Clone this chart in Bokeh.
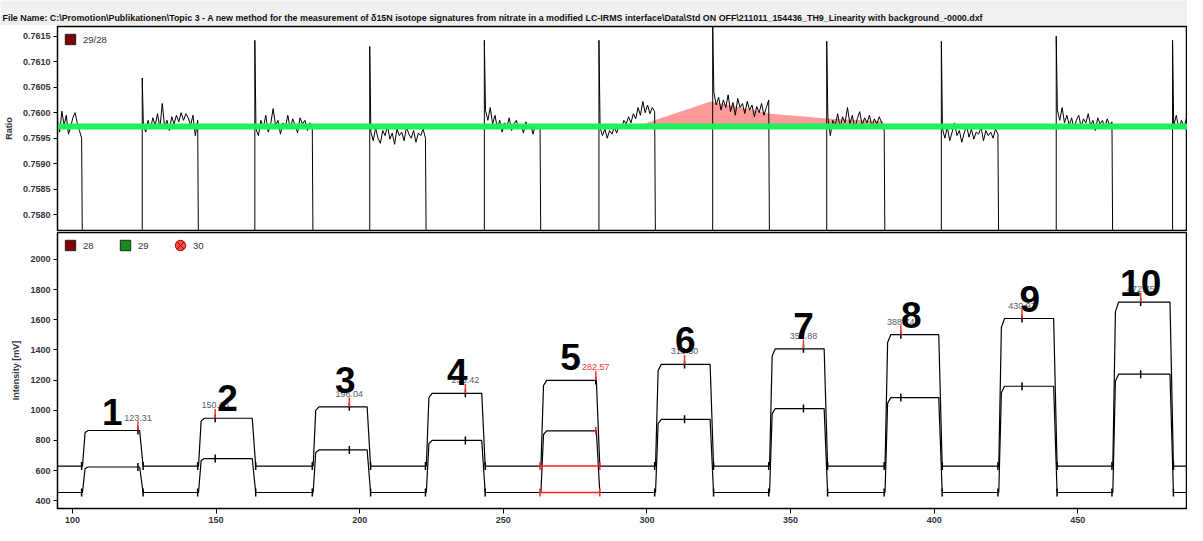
import numpy as np
from bokeh.plotting import figure
from bokeh.layouts import column
from bokeh.models import (Range1d, FixedTicker, NumeralTickFormatter, Label,
                          Legend, LegendItem, ColumnDataSource)
from bokeh.core.properties import value
from bokeh.embed import file_html
from bokeh.resources import INLINE

# ---------------- data ----------------
TITLE = ("File Name: C:\\Promotion\\Publikationen\\Topic 3 - A new method for the measurement of "
         "\u03b415N isotope signatures from nitrate in a modified LC-IRMS interface\\Data\\Std ON OFF\\"
         "211011_154436_TH9_Linearity with background_-0000.dxf")

time_range = (94.8, 488.2)

peak_start = [103.5, 143.9, 183.8, 223.2, 263.1, 303.0, 342.7, 382.9, 422.5, 462.2]
peak_end = [124.3, 163.5, 203.5, 243.4, 283.3, 322.9, 362.6, 402.5, 442.5, 483.0]
plateau_28 = [866, 947, 1023, 1112, 1198, 1304, 1407, 1501, 1608, 1717]
plateau_29 = [624, 680, 737, 800, 864, 940, 1011, 1084, 1159, 1239]
baseline_28 = 630
baseline_29 = 455
apex_time = [122.8, 149.7, 196.4, 236.8, 282.2, 313.1, 354.5, 388.4, 430.6, 471.9]
apex_label = ["123.31", "150.03", "196.04", "236.42", "282.57", "313.50", "354.88", "388.74", "430.97", "472.35"]
selected_peak = 4
peak_numbers = ["1", "2", "3", "4", "5", "6", "7", "8", "9", "10"]
number_x = [113.9, 154.0, 195.0, 234.0, 273.4, 313.4, 354.5, 392.0, 433.3, 471.9]
number_y = [902, 998, 1112, 1169, 1265, 1379, 1474, 1544, 1652, 1760]

ratio_reference = 0.75973
ratio_in_peak = 0.7570
ratio_spike = [0.76068, 0.76142, 0.76130, 0.76142, 0.76142, 0.76175, 0.76140, 0.76140, 0.76150, 0.76142]
ratio_gaps = [
    [0.75985, 0.75962, 0.76003, 0.75975, 0.75995, 0.75958, 0.75972, 0.75990, 0.76000, 0.75980, 0.75965, 0.75950],
    [0.75975, 0.75962, 0.75985, 0.75968, 0.75990, 0.75975, 0.75998, 0.75970, 0.76018, 0.75972, 0.75985, 0.75965,
     0.75992, 0.75978, 0.75995, 0.75982, 0.76000, 0.75985, 0.75998, 0.75990, 0.75975, 0.75995, 0.75955, 0.75985],
    [0.75968, 0.75955, 0.75985, 0.75970, 0.75995, 0.75962, 0.75978, 0.76008, 0.75975, 0.75985, 0.75958, 0.75980,
     0.75972, 0.75995, 0.75968, 0.75988, 0.75975, 0.75960, 0.75990, 0.75978, 0.75985, 0.75965, 0.75980, 0.75970],
    [0.75962, 0.75945, 0.75970, 0.75950, 0.75940, 0.75965, 0.75955, 0.75975, 0.75948, 0.75960, 0.75938, 0.75968,
     0.75955, 0.75962, 0.75945, 0.75972, 0.75958, 0.75950, 0.75965, 0.75942, 0.75960, 0.75955, 0.75968, 0.75950],
    [0.76005, 0.75985, 0.76010, 0.75978, 0.75995, 0.75970, 0.75985, 0.75962, 0.75980, 0.75972, 0.75990, 0.75965,
     0.75978, 0.75985, 0.75968, 0.75975, 0.75960, 0.75982, 0.75970, 0.75978, 0.75958, 0.75975, 0.75968, 0.75972],
    [0.75970, 0.75955, 0.75968, 0.75950, 0.75965, 0.75958, 0.75972, 0.75960, 0.75975, 0.75968, 0.75985, 0.75978,
     0.75992, 0.75980, 0.75998, 0.75988, 0.76010, 0.75995, 0.76022, 0.76000, 0.76015, 0.75998, 0.76010, 0.76002],
    [0.76040, 0.76015, 0.76030, 0.76005, 0.76025, 0.76010, 0.76035, 0.76002, 0.76020, 0.75995, 0.76028, 0.76010,
     0.76018, 0.75998, 0.76022, 0.76005, 0.76015, 0.75992, 0.76012, 0.76000, 0.76018, 0.75995, 0.76010, 0.76025],
    [0.75990, 0.75955, 0.75985, 0.75975, 0.75998, 0.75970, 0.75992, 0.75980, 0.76010, 0.75978, 0.75995, 0.75968,
     0.75988, 0.76002, 0.75975, 0.75990, 0.75980, 0.75995, 0.75972, 0.75988, 0.75978, 0.75992, 0.75980, 0.75970],
    [0.75968, 0.75950, 0.75972, 0.75945, 0.75962, 0.75980, 0.75955, 0.75965, 0.75942, 0.75960, 0.75975, 0.75952,
     0.75968, 0.75948, 0.75962, 0.75958, 0.75972, 0.75945, 0.75965, 0.75955, 0.75962, 0.75950, 0.75968, 0.75958],
    [0.76005, 0.75985, 0.76010, 0.75980, 0.75995, 0.75975, 0.75990, 0.75968, 0.75985, 0.75995, 0.75972, 0.75988,
     0.75980, 0.75998, 0.75975, 0.75985, 0.75965, 0.75990, 0.75978, 0.75985, 0.75970, 0.75988, 0.75975, 0.75982],
    [0.75975, 0.75995, 0.75968, 0.75985, 0.75972, 0.75990],
]
highlight_x = [296.2, 322.2, 343.1, 363.9, 382.3]
highlight_y = [0.75973, 0.76022, 0.75998, 0.75988, 0.75983]

ratio_ticks = [0.7580, 0.7585, 0.7590, 0.7595, 0.7600, 0.7605, 0.7610, 0.7615]
intensity_ticks = [400, 600, 800, 1000, 1200, 1400, 1600, 1800, 2000]
time_ticks = [100, 150, 200, 250, 300, 350, 400, 450]

# ---------------- styles ----------------
FONT = "Liberation Sans"
LBL = "#333340"
W = 1187
LEFT = 54
NAN = [float("nan")]


def style_axis(ax, label):
    ax.axis_label = label
    ax.axis_label_text_font = FONT
    ax.axis_label_text_font_size = "9px"
    ax.axis_label_text_font_style = "bold"
    ax.axis_label_text_color = LBL
    ax.axis_label_standoff = 6
    ax.major_label_text_font = FONT
    ax.major_label_text_font_size = "9px"
    ax.major_label_text_font_style = "bold"
    ax.major_label_text_color = LBL
    ax.major_label_standoff = 3
    ax.major_tick_out = 4
    ax.major_tick_in = 0
    ax.minor_tick_out = 0
    ax.minor_tick_in = 0
    ax.axis_line_color = "black"
    ax.major_tick_line_color = "black"


def make_legend(items, orientation):
    return Legend(items=items, location="top_left", orientation=orientation,
                  background_fill_alpha=0, border_line_alpha=0, margin=0, padding=0, spacing=9,
                  glyph_width=26, glyph_height=26, label_standoff=-4,
                  label_text_font=FONT, label_text_font_size="9.5px", label_text_color="#333333",
                  label_height=26)


# ---------------- title bar ----------------
pt = figure(width=W, height=25, x_range=Range1d(0, 1), y_range=Range1d(0, 1),
            x_axis_location=None, y_axis_location=None, output_backend="svg",
            toolbar_location=None, min_border=0, min_border_left=0,
            min_border_right=0, min_border_top=0, min_border_bottom=0)
pt.frame_align = False
pt.background_fill_color = "#f0f0f0"
pt.border_fill_color = "#f0f0f0"
pt.outline_line_color = None
pt.grid.visible = False
pt.add_layout(Label(x=2, y=8, x_units="screen", y_units="screen", text=TITLE,
                    text_font=FONT, text_font_size="8.9px", text_font_style="bold",
                    text_color="#111111", text_baseline="middle"))

xr = Range1d(*time_range)

# ---------------- top panel: ratio ----------------
p1 = figure(width=W, height=206, x_range=xr, y_range=Range1d(0.75769, 0.76169),
            x_axis_location=None, output_backend="svg", toolbar_location=None,
            min_border_left=LEFT, min_border_right=0, min_border_top=1, min_border_bottom=1)
p1.grid.visible = False
p1.outline_line_color = "black"
p1.outline_line_width = 1.5
p1.background_fill_color = "white"
style_axis(p1.yaxis[0], "Ratio")
p1.yaxis.ticker = FixedTicker(ticks=ratio_ticks)
p1.yaxis.formatter = NumeralTickFormatter(format="0.0000")

p1.varea(x=highlight_x, y1=[ratio_reference] * len(highlight_x), y2=highlight_y,
         fill_color="#ff9a9a", fill_alpha=1.0)

gap_start = [time_range[0]] + peak_end
gap_end = peak_start + [time_range[1]]
rx, ry = [], []
for i, vals in enumerate(ratio_gaps):
    gs, ge = gap_start[i], gap_end[i]
    if i > 0:
        rx += [gs, gs]
        ry += [ratio_in_peak, ratio_spike[i - 1]]
        xs = np.linspace(gs + 0.4, ge - 0.3, len(vals))
    else:
        xs = np.linspace(gs, ge - 0.3, len(vals))
    rx += list(xs)
    ry += list(vals)
    if i < len(peak_start):
        rx += [ge, peak_end[i]]
        ry += [ratio_in_peak, ratio_in_peak]
p1.line(rx, ry, line_color="black", line_width=1)
p1.line(list(time_range), [ratio_reference, ratio_reference], line_color="#1ff05a", line_width=6)

r_leg1 = p1.scatter(NAN, NAN, marker="square", size=10, fill_color="#800000", line_color="#222222")
p1.add_layout(make_legend([LegendItem(label="29/28", renderers=[r_leg1])], "vertical"))

# ---------------- bottom panel: intensity ----------------
p2 = figure(width=W, height=294, x_range=xr, y_range=Range1d(349, 2178),
            output_backend="svg", toolbar_location=None,
            min_border_left=LEFT, min_border_right=0, min_border_top=1, min_border_bottom=0)
p2.grid.visible = False
p2.outline_line_color = "black"
p2.outline_line_width = 1.5
style_axis(p2.yaxis[0], "Intensity [mV]")
style_axis(p2.xaxis[0], "")
p2.xaxis.major_tick_out = 5
p2.yaxis.ticker = FixedTicker(ticks=intensity_ticks)
p2.xaxis.ticker = FixedTicker(ticks=time_ticks)


def trace(base, plateau):
    xs, ys = [time_range[0]], [base]
    for s, e, h in zip(peak_start, peak_end, plateau):
        xs += [s, s + 0.9, s + 2.0, e - 0.9, e + 0.3]
        ys += [base, h - 0.06 * (h - base), h, h, base]
    xs.append(time_range[1])
    ys.append(base)
    return xs, ys


for base, plat in ((baseline_28, plateau_28), (baseline_29, plateau_29)):
    tx, ty = trace(base, plat)
    p2.line(tx, ty, line_color="black", line_width=1.2)

# selected peak highlighted in red along the baselines
k = selected_peak
for base in (baseline_28, baseline_29):
    p2.line([peak_start[k] - 0.3, peak_end[k] + 0.3], [base, base], line_color="#ff2020", line_width=1.5)

# peak start / end ticks and apex ticks
tick_x, tick_y, tick_c = [], [], []
for i in range(len(peak_start)):
    c = "#ff2020" if i == selected_peak else "black"
    for base in (baseline_28, baseline_29):
        tick_x += [peak_start[i] - 0.3, peak_end[i] + 0.3]
        tick_y += [base, base]
        tick_c += [c, c]
    tick_x += [apex_time[i], apex_time[i]]
    tick_y += [plateau_28[i], plateau_29[i]]
    tick_c += ["black", c]
p2.scatter(tick_x, tick_y, marker="dash", angle=np.pi / 2, size=8, line_color=tick_c, line_width=1.5)

# apex markers and labels
p2.segment(x0=apex_time, y0=plateau_28, x1=apex_time, y1=[v + 62 for v in plateau_28],
           line_color="#ff3030", line_width=1.5)
lab_src = ColumnDataSource(dict(x=apex_time, y=[v + 66 for v in plateau_28], t=apex_label,
                                c=["#ff3030" if i == selected_peak else "#555c6a" for i in range(len(apex_label))]))
p2.text(x="x", y="y", text="t", source=lab_src, text_color="c", text_font=value(FONT),
        text_font_size="9px", text_align="center", text_baseline="bottom")

num_src = ColumnDataSource(dict(x=number_x, y=number_y, t=peak_numbers))
p2.text(x="x", y="y", text="t", source=num_src, text_color="black", text_font=value(FONT),
        text_font_size="37px", text_font_style="bold", text_align="center", text_baseline="bottom")

r28 = p2.scatter(NAN, NAN, marker="square", size=10, fill_color="#800000", line_color="#222222")
r29 = p2.scatter(NAN, NAN, marker="square", size=10, fill_color="#1a8a1a", line_color="#222222")
r30 = p2.scatter(NAN, NAN, marker="circle_x", size=11, fill_color="#ff4a4a", line_color="#b00000")
p2.add_layout(make_legend([LegendItem(label="28", renderers=[r28]),
                           LegendItem(label="29", renderers=[r29]),
                           LegendItem(label="30", renderers=[r30])], "horizontal"))

layout = column(pt, p1, p2, spacing=0)
open("out.html", "w").write(file_html(layout, INLINE))
